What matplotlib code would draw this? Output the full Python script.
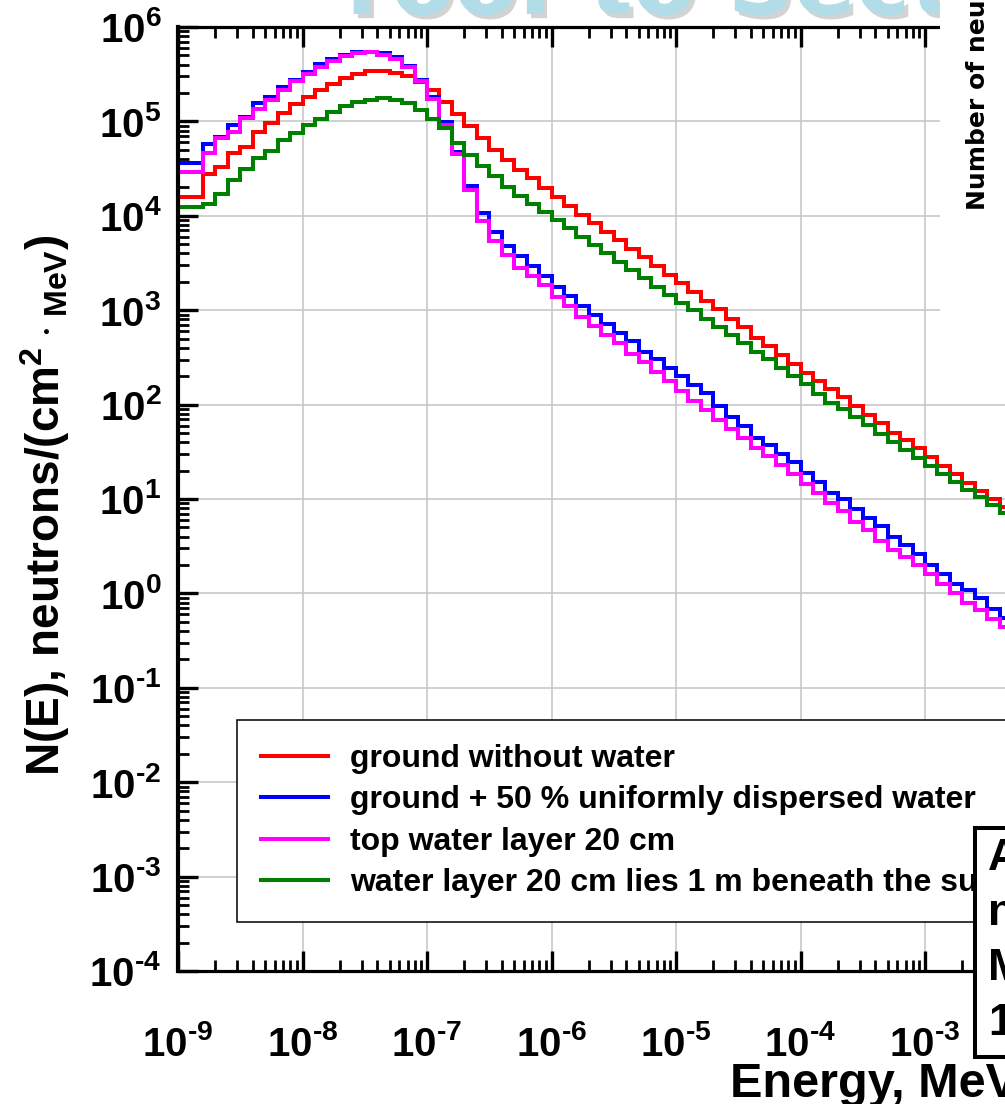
import numpy as np
import matplotlib.pyplot as plt
import matplotlib.ticker as mticker
import matplotlib.patheffects as pe
from matplotlib.lines import Line2D
from matplotlib.patches import Rectangle

# log10 of N(E) per bin, 10 bins per decade starting at 1e-9 MeV
log_red = [4.20, 4.20, 4.44, 4.52, 4.67, 4.73, 4.89, 4.98, 5.09, 5.18,
           5.26, 5.33, 5.40, 5.46, 5.50, 5.53, 5.53, 5.51, 5.48, 5.42,
           5.33, 5.21, 5.08, 4.95, 4.82, 4.70, 4.59, 4.49, 4.40, 4.29,
           4.20, 4.10, 4.01, 3.92, 3.83, 3.74, 3.65, 3.56, 3.47, 3.37,
           3.29, 3.19, 3.10, 3.01, 2.91, 2.82, 2.71, 2.62, 2.53, 2.43,
           2.33, 2.25, 2.17, 2.08, 1.99, 1.89, 1.80, 1.70, 1.62, 1.54,
           1.44, 1.35, 1.26, 1.17, 1.09, 1.00, 0.91]
log_blue = [4.56, 4.56, 4.76, 4.83, 4.96, 5.05, 5.19, 5.26, 5.36, 5.44,
            5.52, 5.61, 5.66, 5.70, 5.73, 5.74, 5.72, 5.68, 5.59, 5.44,
            5.26, 4.99, 4.68, 4.32, 4.03, 3.83, 3.68, 3.57, 3.47, 3.36,
            3.25, 3.15, 3.04, 2.95, 2.85, 2.76, 2.67, 2.56, 2.48, 2.39,
            2.30, 2.21, 2.12, 1.99, 1.87, 1.77, 1.65, 1.57, 1.48, 1.39,
            1.28, 1.18, 1.06, 1.00, 0.89, 0.80, 0.71, 0.60, 0.51, 0.42,
            0.30, 0.21, 0.10, 0.04, -0.05, -0.16, -0.26]
log_magenta = [4.46, 4.46, 4.67, 4.82, 4.89, 5.04, 5.13, 5.23, 5.33, 5.43,
               5.50, 5.58, 5.64, 5.69, 5.72, 5.73, 5.70, 5.66, 5.58, 5.43,
               5.24, 4.96, 4.65, 4.27, 3.94, 3.73, 3.59, 3.45, 3.36, 3.27,
               3.14, 3.04, 2.93, 2.83, 2.74, 2.65, 2.54, 2.45, 2.35, 2.25,
               2.14, 2.04, 1.94, 1.84, 1.74, 1.65, 1.54, 1.46, 1.36, 1.26,
               1.16, 1.06, 0.96, 0.87, 0.76, 0.67, 0.56, 0.46, 0.39, 0.30,
               0.21, 0.10, 0.00, -0.10, -0.18, -0.27, -0.36]
log_green = [4.09, 4.09, 4.13, 4.23, 4.38, 4.50, 4.61, 4.69, 4.80, 4.88,
             4.96, 5.03, 5.10, 5.16, 5.21, 5.23, 5.25, 5.23, 5.19, 5.12,
             5.03, 4.93, 4.77, 4.64, 4.53, 4.42, 4.31, 4.21, 4.13, 4.04,
             3.96, 3.87, 3.78, 3.69, 3.61, 3.51, 3.43, 3.34, 3.25, 3.16,
             3.08, 3.00, 2.91, 2.82, 2.74, 2.65, 2.56, 2.48, 2.39, 2.30,
             2.22, 2.11, 2.02, 1.95, 1.87, 1.78, 1.69, 1.60, 1.52, 1.43,
             1.35, 1.27, 1.18, 1.10, 1.02, 0.94, 0.85]

labels = ['ground without water',
          'ground + 50 % uniformly dispersed water',
          'top water layer 20 cm',
          'water layer 20 cm lies 1 m beneath the surface']
colors = ['#ff0000', '#0000ff', '#ff00ff', '#008000']
series = [log_red, log_blue, log_magenta, log_green]

x_decades = np.arange(-9, 0)
y_decades = np.arange(-4, 7)

plt.rcParams['font.family'] = ['Liberation Sans', 'DejaVu Sans']
plt.rcParams['font.weight'] = 'bold'
plt.rcParams['mathtext.fontset'] = 'custom'
plt.rcParams['mathtext.rm'] = 'Liberation Sans:bold'
plt.rcParams['mathtext.it'] = 'Liberation Sans:bold'
plt.rcParams['mathtext.bf'] = 'Liberation Sans:bold'
plt.rcParams['axes.unicode_minus'] = False


def dec_label(e):
    # short hyphen in the exponent, like the original
    if e < 0:
        return r'$10^{\text{-}%d}$' % (-e)
    return r'$10^{%d}$' % e


W, H = 1005, 1104
fig = plt.figure(figsize=(W / 100, H / 100), dpi=100)
# axes runs past the right edge of the picture (reference is cropped)
ax = fig.add_axes([178 / W, 1 - 971 / H, 996 / W, 944 / H])

edges = np.logspace(-9, -9 + len(log_red) / 10, len(log_red) + 1)
for vals, col in zip(series, colors):
    ax.stairs(10.0 ** np.array(vals), edges, color=col, lw=2.9,
              baseline=None, joinstyle='miter')

ax.set_xscale('log')
ax.set_yscale('log')
ax.set_xlim(1e-9, 1e-1)
ax.set_ylim(1e-4, 1e6)

ax.set_xticks(10.0 ** x_decades)
ax.set_xticklabels([dec_label(e) for e in x_decades])
ax.set_yticks(10.0 ** y_decades)
ax.set_yticklabels([dec_label(e) for e in y_decades])
for a in (ax.xaxis, ax.yaxis):
    a.set_minor_locator(mticker.LogLocator(base=10, subs=np.arange(2, 10), numticks=30))
    a.set_minor_formatter(mticker.NullFormatter())

ax.tick_params(which='major', direction='in', length=14.5, width=2.4,
               top=True, right=True, labelsize=29)
ax.tick_params(which='minor', direction='in', length=8, width=2.0,
               top=True, right=True)
ax.tick_params(axis='x', which='major', pad=39)
ax.tick_params(axis='y', which='major', pad=12)

ax.grid(True, which='major', color='#c8c8c8', lw=1.2)
ax.set_axisbelow(True)
for s in ax.spines.values():
    s.set_linewidth(2.3)
ax.spines['left'].set_linewidth(3.0)

handles = [Line2D([], [], color=c, lw=2.9) for c in colors]
leg = ax.legend(handles, labels, loc='upper left',
                bbox_to_anchor=(237 / W, 1 - 720 / H), bbox_transform=fig.transFigure,
                borderaxespad=0, fontsize=23, frameon=True, fancybox=False,
                framealpha=1, edgecolor='black', handlelength=2.1,
                handletextpad=0.7, borderpad=0.75, labelspacing=0.36)
leg.get_frame().set_linewidth(1.1)

# axis titles
fig.text(45 / W, 1 - 505 / H, r'N(E), neutrons/(cm$^{2}\cdot{}_{\mathrm{MeV}}$)',
         rotation=90, ha='center', va='center', fontsize=33, fontweight='bold')
fig.text(730 / W, 1 - 1097 / H, 'Energy, MeV', ha='left', va='baseline',
         fontsize=35, fontweight='bold')

# watermark remains at the top (cropped)
fig.text(346 / W, 1 - 14 / H, 'roof to Sect', color='#b2dce8', fontsize=66,
         fontweight='bold', family='DejaVu Sans', va='baseline', zorder=0.5,
         path_effects=[pe.SimplePatchShadow(offset=(3, -3), shadow_rgbFace='#a8a8a8', alpha=0.5),
                       pe.Normal()])

# neighbouring panel that covers the top right corner
fig.add_artist(Rectangle((940 / W, 1 - 350 / H), 80 / W, 360 / H,
                         transform=fig.transFigure, facecolor='white',
                         edgecolor='none', zorder=1))
fig.text(978 / W, 1 - 210 / H, 'Number of neutrons', rotation=90,
         rotation_mode='anchor', ha='left', va='center', fontsize=18,
         fontweight='bold', family='DejaVu Sans', zorder=2)

# annotation box at bottom right (cropped)
fig.add_artist(Rectangle((975 / W, 1 - 1057 / H), 100 / W, (1057 - 828) / H,
                         transform=fig.transFigure, facecolor='white',
                         edgecolor='black', lw=2.9, zorder=2))
for txt, yb in zip(['A', 'n', 'M', '1'], [870, 925, 980, 1035]):
    fig.text(988 / W, 1 - yb / H, txt, ha='left', va='baseline', fontsize=32,
             fontweight='bold', zorder=3)

fig.savefig('out.png', dpi=100)
